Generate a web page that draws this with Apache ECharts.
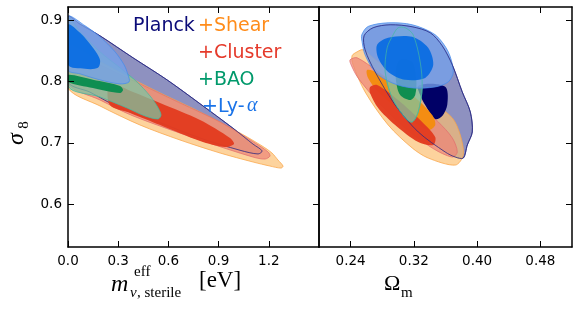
<!DOCTYPE html>
<html>
<head>
<meta charset="utf-8">
<script src="https://cdn.jsdelivr.net/npm/echarts@6/dist/echarts.min.js"></script>
<style>
html,body{margin:0;padding:0;background:#fff;}
#chart{width:582px;height:312px;}
</style>
</head>
<body>
<div id="chart"></div>
<script>
// ---- tick values ----
const xTicksMass = [0.0, 0.3, 0.6, 0.9, 1.2];
const xTicksOmega = [0.24, 0.32, 0.40, 0.48];
const yTicksSigma = [0.6, 0.7, 0.8, 0.9];

// ---- legend labels ----
const legendNames = ['Planck', '+Shear', '+Cluster', '+BAO', '+Ly-'];

// ---- contours, left panel: [m_nu_eff (eV), sigma_8] ----
const planck95_m = [[0,0.906],[0.072,0.894],[0.191,0.875],[0.389,0.839],[0.592,0.803],[0.789,0.764],[0.986,0.724],[1.106,0.698],[1.160,0.687],[1.136,0.682],[1.028,0.688],[0.789,0.708],[0.550,0.733],[0.311,0.757],[0.131,0.783],[0,0.800]];
const shear95_m = [[0,0.8586],[0.191,0.8324],[0.371,0.8062],[0.550,0.7817],[0.789,0.7506],[1.028,0.7162],[1.160,0.6950],[1.219,0.6835],[1.255,0.6720],[1.285,0.6622],[1.273,0.6589],[1.207,0.6622],[1.106,0.6688],[0.909,0.6835],[0.669,0.7048],[0.430,0.7293],[0.191,0.7604],[0,0.7899]];
const cluster95_m = [[0,0.8521],[0.191,0.8275],[0.430,0.7964],[0.669,0.7653],[0.909,0.7342],[1.118,0.6999],[1.196,0.6851],[1.207,0.6785],[1.177,0.6737],[1.106,0.6769],[0.789,0.7048],[0.389,0.7441],[0.191,0.7702],[0,0.7964]];
const cluster68_m = [[0.25,0.7960],[0.389,0.7833],[0.550,0.7653],[0.789,0.7375],[0.968,0.7081],[0.992,0.6982],[0.938,0.6933],[0.789,0.7032],[0.550,0.7293],[0.371,0.7490],[0.25,0.7620]];
const bao95_m = [[0,0.9044],[0.072,0.8815],[0.191,0.8488],[0.311,0.8226],[0.412,0.7997],[0.490,0.7768],[0.532,0.7604],[0.556,0.7457],[0.538,0.7392],[0.460,0.7441],[0.353,0.7571],[0.191,0.7751],[0,0.7931]];
const bao68_m = [[0,0.8111],[0.149,0.8030],[0.311,0.7931],[0.329,0.7866],[0.311,0.7817],[0.149,0.7899],[0,0.7997]];
const lya95_m = [[0,0.9061],[0.102,0.8913],[0.191,0.8733],[0.281,0.8488],[0.335,0.8275],[0.359,0.8111],[0.365,0.7997],[0.311,0.7964],[0.191,0.8030],[0.072,0.8128],[0,0.8193]];
const lya68_m = [[0,0.8930],[0.072,0.8799],[0.149,0.8553],[0.191,0.8357],[0.179,0.8226],[0.102,0.8210],[0,0.8275]];

// ---- contours, right panel: [Omega_m, sigma_8] ----
const planck95_om = [[0.2570,0.8750],[0.2684,0.8881],[0.2900,0.8930],[0.3179,0.8897],[0.3407,0.8799],[0.3559,0.8586],[0.3686,0.8275],[0.3812,0.7833],[0.3914,0.7506],[0.3939,0.7179],[0.3876,0.6966],[0.3825,0.6753],[0.3724,0.6769],[0.3597,0.6851],[0.3255,0.7179],[0.2963,0.7620],[0.2710,0.8160],[0.2583,0.8521]];
const planck68_om = [[0.3255,0.7931],[0.3470,0.7964],[0.3610,0.7899],[0.3622,0.7620],[0.3559,0.7441],[0.3470,0.7392],[0.3343,0.7620],[0.3280,0.7784]];
const shear95_om = [[0.2482,0.8488],[0.2558,0.8521],[0.2748,0.8324],[0.3090,0.8062],[0.3432,0.7669],[0.3686,0.7408],[0.3787,0.7129],[0.3825,0.6802],[0.3724,0.6638],[0.3381,0.6753],[0.3179,0.6917],[0.2875,0.7293],[0.2583,0.7833],[0.2431,0.8275],[0.2418,0.8423]];
const shear68_om = [[0.2608,0.8193],[0.2748,0.8144],[0.3179,0.7784],[0.3432,0.7457],[0.3470,0.7293],[0.3381,0.7211],[0.3090,0.7457],[0.2748,0.7833],[0.2621,0.8062]];
const cluster95_om = [[0.2393,0.8357],[0.2482,0.8390],[0.2748,0.8160],[0.3179,0.7735],[0.3509,0.7342],[0.3686,0.7081],[0.3749,0.6851],[0.3686,0.6769],[0.3432,0.6917],[0.3090,0.7244],[0.2748,0.7669],[0.2494,0.8062],[0.2406,0.8275]];
const cluster68_om = [[0.2646,0.7915],[0.2735,0.7948],[0.3001,0.7702],[0.3305,0.7342],[0.3470,0.7097],[0.3445,0.6966],[0.3255,0.7015],[0.2963,0.7293],[0.2748,0.7571],[0.2646,0.7817]];
const bao95_om = [[0.3001,0.8881],[0.2938,0.8766],[0.2862,0.8553],[0.2837,0.8160],[0.2925,0.7735],[0.3090,0.7408],[0.3179,0.7342],[0.3255,0.7506],[0.3305,0.7899],[0.3280,0.8324],[0.3191,0.8766],[0.3090,0.8881]];
const bao68_om = [[0.3027,0.8357],[0.3179,0.8324],[0.3230,0.8030],[0.3217,0.7784],[0.3153,0.7702],[0.3027,0.7784],[0.2976,0.7997],[0.2976,0.8226]];
const lya95_om = [[0.2541,0.8766],[0.2621,0.8902],[0.2875,0.8962],[0.3179,0.8930],[0.3470,0.8766],[0.3635,0.8488],[0.3698,0.8160],[0.3635,0.7997],[0.3470,0.7915],[0.3179,0.7899],[0.2925,0.7980],[0.2710,0.8160],[0.2583,0.8439],[0.2545,0.8651]];
const lya68_om = [[0.2735,0.8602],[0.2875,0.8717],[0.3179,0.8733],[0.3381,0.8553],[0.3445,0.8275],[0.3343,0.8062],[0.3090,0.8030],[0.2875,0.8160],[0.2748,0.8390]];

// ---- styles ----
const C = {
  planck: {c95: '#8e91c0', c68: '#000066', edge: 'rgba(40,40,130,0.95)', text: '#0b0b78'},
  shear:  {c95: 'rgba(252,190,110,0.68)', c68: 'rgba(244,140,14,0.97)', edge: 'rgba(250,165,70,0.95)', text: '#ff8c1a'},
  cluster:{c95: 'rgba(236,132,118,0.7)', c68: 'rgba(226,60,32,0.97)', edge: 'rgba(226,110,110,0.95)', text: '#e53a2b'},
  bao:    {c95: 'rgba(122,198,164,0.72)', c68: 'rgba(10,140,78,0.97)', edge: 'rgba(70,185,160,0.95)', text: '#00996b'},
  lya:    {c95: 'rgba(117,160,235,0.78)', c68: 'rgba(8,108,226,0.93)', edge: 'rgba(70,140,235,0.95)', text: '#1a73e8'}
};

function contour(pts, panel, fill, stroke, lw) {
  return {
    type: 'custom',
    xAxisIndex: panel === 0 ? 0 : 2,
    yAxisIndex: panel === 0 ? 0 : 2,
    clip: true,
    silent: true,
    z: 2,
    data: [pts[0]],
    encode: {x: 0, y: 1},
    renderItem: function (params, api) {
      return {
        type: 'polygon',
        shape: {points: pts.map(p => api.coord(p)), smooth: 0.3},
        style: {fill: fill, stroke: stroke, lineWidth: lw}
      };
    }
  };
}

const series = [
  // left panel
  contour(planck95_m, 0, C.planck.c95, C.planck.edge, 0.8),
  contour(shear95_m, 0, C.shear.c95, C.shear.edge, 0.8),
  contour(cluster95_m, 0, C.cluster.c95, C.cluster.edge, 0.8),
  contour(planck95_m, 0, 'rgba(0,0,0,0)', C.planck.edge, 0.8),
  contour(cluster68_m, 0, C.cluster.c68, null, 0),
  contour(bao95_m, 0, C.bao.c95, C.bao.edge, 0.8),
  contour(bao68_m, 0, C.bao.c68, null, 0),
  contour(lya95_m, 0, C.lya.c95, C.lya.edge, 0.8),
  contour(lya68_m, 0, C.lya.c68, null, 0),
  // right panel
  contour(planck95_om, 1, C.planck.c95, C.planck.edge, 0.8),
  contour(shear95_om, 1, C.shear.c95, C.shear.edge, 0.8),
  contour(cluster95_om, 1, C.cluster.c95, C.cluster.edge, 0.8),
  contour(planck68_om, 1, C.planck.c68, null, 0),
  contour(shear68_om, 1, C.shear.c68, null, 0),
  contour(cluster68_om, 1, C.cluster.c68, null, 0),
  contour(bao95_om, 1, C.bao.c95, C.bao.edge, 0.8),
  contour(bao68_om, 1, C.bao.c68, null, 0),
  contour(lya95_om, 1, C.lya.c95, C.lya.edge, 0.8),
  contour(lya68_om, 1, C.lya.c68, null, 0),
  contour(planck95_om, 1, 'rgba(0,0,0,0)', C.planck.edge, 0.8),
  contour(bao95_om, 1, 'rgba(0,0,0,0)', C.bao.edge, 0.7)
];

const labelFont = {fontSize: 13.5, color: '#000', fontFamily: 'DejaVu Sans'};
const lineSt = {color: '#000', width: 1.5};
const tickSt = {color: '#000', width: 1};

function xAx(grid, min, max, ticks, pos, showLabel, dec) {
  return {
    type: 'value', gridIndex: grid, min: min, max: max, position: pos, z: 10,
    axisLine: {show: true, onZero: false, lineStyle: lineSt},
    axisTick: {show: true, inside: true, length: 6, customValues: ticks, lineStyle: tickSt},
    axisLabel: Object.assign({show: showLabel, customValues: ticks, margin: 7,
      formatter: v => Number(v).toFixed(dec)}, labelFont),
    splitLine: {show: false}
  };
}
function yAx(grid, pos, showLabel, showTick) {
  return {
    type: 'value', gridIndex: grid, min: 0.53, max: 0.922, position: pos, z: 10,
    axisLine: {show: true, onZero: false, lineStyle: lineSt},
    axisTick: {show: showTick, inside: true, length: 6, customValues: yTicksSigma, lineStyle: tickSt},
    axisLabel: Object.assign({show: showLabel, customValues: yTicksSigma, margin: 6,
      formatter: v => Number(v).toFixed(1)}, labelFont),
    splitLine: {show: false}
  };
}

const serif = '"Liberation Serif", "DejaVu Serif", serif';
const sans = '"DejaVu Sans", sans-serif';

function txt(x, y, text, font, fill, align, va) {
  return {type: 'text', x: x, y: y, z: 20, silent: true,
    style: {text: text, font: font, fill: fill || '#000', align: align || 'left', verticalAlign: va || 'middle'}};
}

const legendY = [26, 53, 80, 107];
const graphic = [
  // legend texts
  txt(133, legendY[0], legendNames[0], '19px ' + sans, C.planck.text),
  txt(198, legendY[0], legendNames[1], '19px ' + sans, C.shear.text),
  txt(198, legendY[1], legendNames[2], '19px ' + sans, C.cluster.text),
  txt(198, legendY[2], legendNames[3], '19px ' + sans, C.bao.text),
  txt(202, legendY[3], legendNames[4], '19px ' + sans, C.lya.text),
  txt(247, legendY[3] - 1, 'α', 'italic 20px ' + serif, C.lya.text),
  // x-axis title, left
  txt(111, 285, 'm', 'italic 24px ' + serif),
  txt(134, 272, 'eff', '15px ' + serif),
  txt(130, 293, 'ν', 'italic 15px ' + serif),
  txt(137, 293, ', sterile', '15px ' + serif),
  txt(199, 281, '[eV]', '23px ' + serif),
  // x-axis title, right
  txt(384, 284, 'Ω', '22px ' + serif),
  txt(401, 293, 'm', '15px ' + serif),
  // y-axis title
  {type: 'group', x: 17, y: 139, rotation: Math.PI / 2, z: 20, silent: true,
    children: [
      {type: 'text', x: 0, y: 0, style: {text: 'σ', font: 'italic 24px ' + serif, fill: '#000', align: 'center', verticalAlign: 'middle'}},
      {type: 'text', x: 14, y: 7, style: {text: '8', font: '15px ' + serif, fill: '#000', align: 'center', verticalAlign: 'middle'}}
    ]}
];

const chart = echarts.init(document.getElementById('chart'), null, {renderer: 'canvas'});
chart.setOption({
  animation: false,
  backgroundColor: '#fff',
  grid: [
    {left: 68, width: 251, top: 7, bottom: 65, containLabel: false},
    {left: 319, width: 253, top: 7, bottom: 65, containLabel: false}
  ],
  xAxis: [
    xAx(0, 0, 1.5, xTicksMass, 'bottom', true, 1),
    xAx(0, 0, 1.5, xTicksMass, 'top', false, 1),
    xAx(1, 0.2, 0.52, xTicksOmega, 'bottom', true, 2),
    xAx(1, 0.2, 0.52, xTicksOmega, 'top', false, 2)
  ],
  yAxis: [
    yAx(0, 'left', true, true),
    yAx(0, 'right', false, true),
    yAx(1, 'right', false, true),
    yAx(1, 'left', false, false)
  ],
  series: series,
  graphic: graphic
});
</script>
</body>
</html>
